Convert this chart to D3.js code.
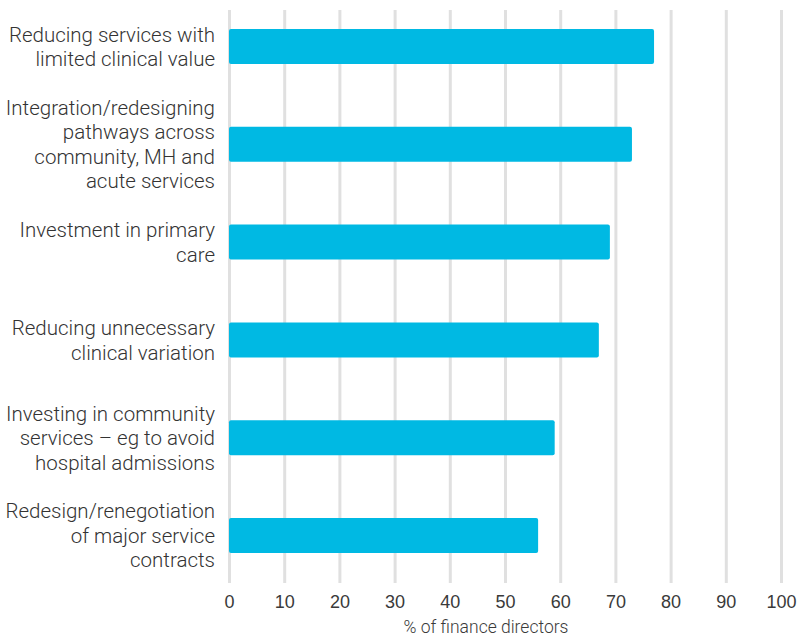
<!DOCTYPE html>
<html>
<head>
<meta charset="utf-8">
<script src="https://cdn.jsdelivr.net/npm/d3@7"></script>
<style>
  body { margin: 0; background: #fff; }
  svg { display: block; font-family: Roboto, "Liberation Sans", sans-serif; font-weight: 300; }
</style>
</head>
<body>
<svg id="chart" width="803" height="637"></svg>
<script>
// Priorities reported by finance directors (% selecting each)
const categories = [
  ["Reducing services with", "limited clinical value"],
  ["Integration/redesigning", "pathways across", "community, MH and", "acute services"],
  ["Investment in primary", "care"],
  ["Reducing unnecessary", "clinical variation"],
  ["Investing in community", "services \u2013 eg to avoid", "hospital admissions"],
  ["Redesign/renegotiation", "of major service", "contracts"]
];
const values = [77, 73, 69, 67, 59, 56];
const tickValues = [0, 10, 20, 30, 40, 50, 60, 70, 80, 90, 100];
const axisTitle = "% of finance directors";

const svg = d3.select("#chart");
const left = 229, right = 781, gridTop = 10, gridBottom = 583;

const x = d3.scaleLinear().domain([0, 100]).range([left, right]);
const y = d3.scaleBand()
  .domain(d3.range(categories.length))
  .range([29, 553])
  .paddingInner(0.6425)
  .paddingOuter(0);

// Vertical gridlines + tick labels
const axis = svg.append("g")
  .attr("transform", `translate(0,${gridBottom})`)
  .call(d3.axisBottom(x)
    .tickValues(tickValues)
    .tickSizeInner(-(gridBottom - gridTop))
    .tickSizeOuter(0)
    .tickPadding(12));
axis.select(".domain").remove();
axis.selectAll(".tick line")
  .attr("stroke", "#e0e0e0")
  .attr("stroke-width", 3);
axis.selectAll(".tick text")
  .attr("fill", "#3a3a3a")
  .style("font-size", "18px")
  .style("font-family", "inherit");

// Bars
svg.append("g")
  .selectAll("rect")
  .data(values)
  .join("rect")
  .attr("x", x(0))
  .attr("y", (d, i) => y(i))
  .attr("width", d => x(d) - x(0))
  .attr("height", y.bandwidth())
  .attr("rx", 2)
  .attr("fill", "#00b9e3");

// Category labels, right-aligned and centred on each bar
const lineH = 24.5;
const labels = svg.append("g")
  .selectAll("text")
  .data(categories)
  .join("text")
  .attr("text-anchor", "end")
  .attr("fill", "#333")
  .style("font-size", "20.5px")
  .attr("x", 215)
  .attr("y", (d, i) => y(i) + y.bandwidth() / 2 - (d.length - 1) * lineH / 2);
labels.selectAll("tspan")
  .data(d => d)
  .join("tspan")
  .attr("x", 215)
  .attr("dy", (d, j) => j === 0 ? "0.36em" : lineH)
  .text(d => d);

// Axis title
svg.append("text")
  .attr("x", 486)
  .attr("y", 633)
  .attr("text-anchor", "middle")
  .attr("fill", "#3a3a3a")
  .style("font-size", "17.5px")
  .text(axisTitle);
</script>
</body>
</html>
